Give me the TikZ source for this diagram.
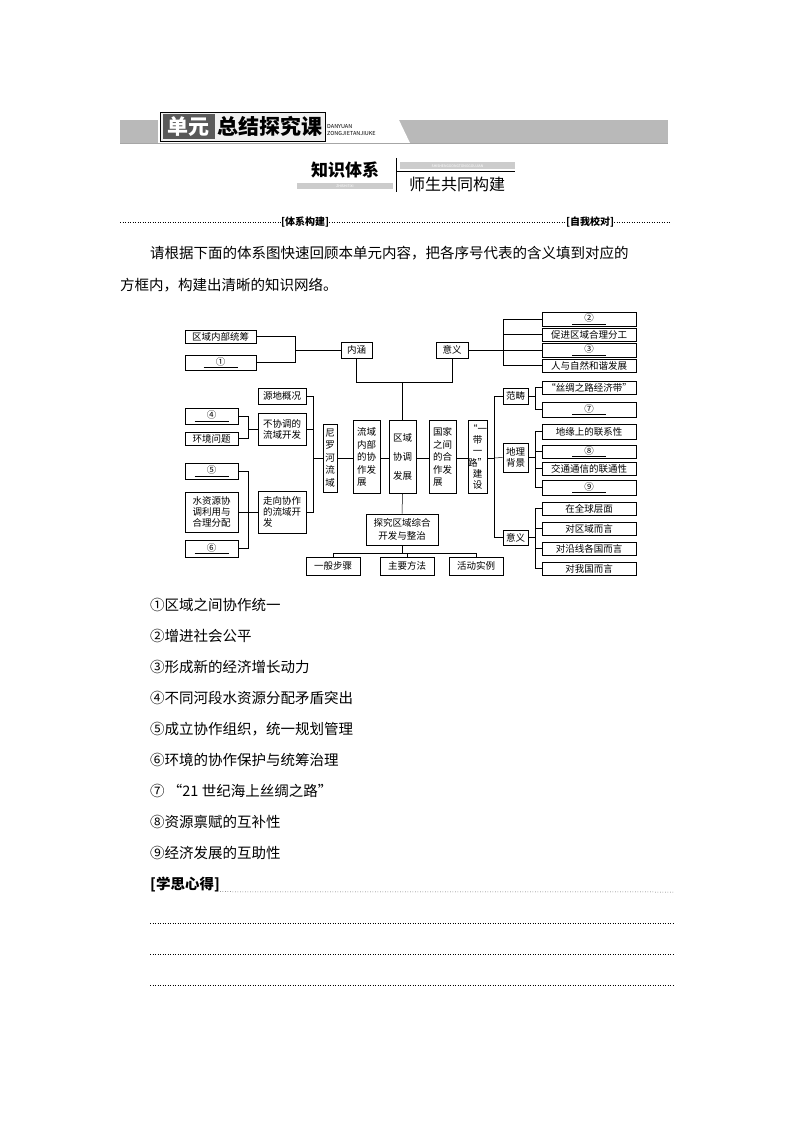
\documentclass[tikz,border=0pt]{standalone}
\usepackage{fontspec}
\setmainfont{Noto Sans CJK SC}
\begin{document}
\begin{tikzpicture}[x=1pt,y=-1pt,
  bx/.style={draw,line width=0.6pt,inner sep=0pt,font=\fontsize{9.5}{11}\selectfont,align=center},
  bxl/.style={bx,align=left},
  ln/.style={line width=0.5pt},
  body/.style={anchor=west,inner sep=0pt,font=\fontsize{14.5}{16}\selectfont}]
\useasboundingbox (0,0) rectangle (794,1123);
\newcommand{\blank}[1]{\underline{\makebox[34pt]{#1}}}
% header band
\fill[gray!55] (120,120) rectangle (668,143);
\fill[white] (158,118) -- (398,118) -- (410,143) -- (158,143) -- cycle;
\draw[gray!70,line width=0.8pt] (120,143) -- (668,143);
\node[draw,fill=gray!12,minimum width=165pt,minimum height=29pt,inner sep=0pt] (hb) at (242.5,126.5) {};
\node[fill=gray!70!black,minimum width=52pt,minimum height=25pt,inner sep=0pt,text=white,font=\fontsize{21}{22}\selectfont\bfseries] (hd) at (188.5,126.5) {单元};
\node[inner sep=0pt,font=\fontsize{21}{22}\selectfont\bfseries] (ht) at (270,126.5) {总结探究课};
\node[anchor=west,inner sep=0pt,font=\fontsize{5.5}{7}\selectfont,align=left] (hs) at (327,130) {DANYUAN\\ZONGJIETANJIUKE};
% knowledge title
\node[inner sep=0pt,font=\fontsize{17}{18}\selectfont\bfseries] (zs) at (345,170) {知识体系};
\node[fill=gray!40,minimum width=96pt,minimum height=6pt,inner sep=0pt,text=white,font=\fontsize{3.5}{4}\selectfont] (zsb) at (345,186) {ZHISHITIXI};
\draw[line width=0.7pt] (396,158) -- (396,192);
\node[fill=gray!40,minimum width=115pt,minimum height=7pt,inner sep=0pt,text=white,font=\fontsize{3.5}{4}\selectfont] (ssb) at (457.5,166) {SHISHENGGONGTONGGOUJIAN};
\draw[line width=0.5pt] (396,171) -- (515,171);
\node[inner sep=0pt,font=\fontsize{16}{17}\selectfont] (ss) at (457,184) {师生共同构建};
% dotted divider
\node[inner sep=0pt,font=\fontsize{10}{11}\selectfont\bfseries] (t1) at (305,222) {[体系构建]};
\node[inner sep=0pt,font=\fontsize{10}{11}\selectfont\bfseries] (t2) at (590,222) {[自我校对]};
\draw[dotted,line width=0.5pt] (120,222) -- (t1.west);
\draw[dotted,line width=0.5pt] (t1.east) -- (t2.west);
\draw[dotted,line width=0.5pt] (t2.east) -- (670,222);
% paragraph
\node[body] (p1) at (150,253) {请根据下面的体系图快速回顾本单元内容，把各序号代表的含义填到对应的};
\node[body] (p2) at (120,285) {方框内，构建出清晰的知识网络。};
% ===== diagram =====
\node[bx,minimum width=71pt,minimum height=13pt] (a1) at (220.5,336.5) {区域内部统筹};
\node[bx,minimum width=71pt,minimum height=15pt] (b1) at (220.5,362.5) {\blank{①}};
\node[bx,minimum width=31pt,minimum height=16pt] (nh) at (356.5,350) {内涵};
\node[bx,minimum width=32pt,minimum height=16pt] (yy) at (452,350) {意义};
\node[bx,minimum width=94pt,minimum height=14pt] (r2) at (589,319) {\blank{②}};
\node[bx,minimum width=94pt,minimum height=13pt] (rc) at (589,334.5) {促进区域合理分工};
\node[bx,minimum width=94pt,minimum height=14pt] (r3) at (589,350) {\blank{③}};
\node[bx,minimum width=94pt,minimum height=13pt] (rr) at (589,365.5) {人与自然和谐发展};
\coordinate (c1) at (295,350);
\draw[ln] (a1.east) -- (295,336.5) -- (295,362.5) -- (b1.east);
\draw[ln] (c1) -- (nh.west);
\coordinate (c2) at (503,350);
\draw[ln] (yy.east) -- (c2);
\draw[ln] (503,319) -- (503,365.5);
\foreach \n in {r2,rc,r3,rr} \draw[ln] (503,0 |- \n.west) -- (\n.west);
% middle row
\node[bx,minimum width=14pt,minimum height=68pt,font=\fontsize{9.5}{12.5}\selectfont] (nl) at (330,458) {尼\\罗\\河\\流\\域};
\node[bxl,minimum width=27pt,minimum height=73pt,font=\fontsize{9.5}{12.5}\selectfont] (ln1) at (366.5,457) {流域\\内部\\的协\\作发\\展};
\node[bx,minimum width=27pt,minimum height=73pt,font=\fontsize{9.5}{19}\selectfont] (qy) at (402.5,457) {区域\\协调\\发展};
\node[bxl,minimum width=27pt,minimum height=73pt,font=\fontsize{9.5}{12.5}\selectfont] (gj) at (442.5,457) {国家\\之间\\的合\\作发\\展};
\node[bx,minimum width=19pt,minimum height=73pt,font=\fontsize{9.5}{11.3}\selectfont] (yd) at (477.5,457) {“一\\带\\一\\路”\\建\\设};
\draw[ln] (nh.south) -- (356.5,382) -- (452,382) -- (yy.south);
\draw[ln] (402.5,382) -- (qy.north);
\coordinate (lv) at (313,458);
\coordinate (rv) at (494,458);
\draw[ln] (lv) -- (nl.west);
\draw[ln] (nl.east |- 0,458) -- (ln1.west |- 0,458);
\draw[ln] (ln1.east |- 0,458) -- (qy.west |- 0,458);
\draw[ln] (qy.east |- 0,458) -- (gj.west |- 0,458);
\draw[ln] (gj.east |- 0,458) -- (yd.west |- 0,458);
\draw[ln] (yd.east |- 0,458) -- (rv);
% left side
\node[bx,minimum width=48pt,minimum height=16pt] (yd1) at (282,396) {源地概况};
\node[bxl,minimum width=48pt,minimum height=32pt] (bx1) at (282,429) {不协调的\\流域开发};
\node[bxl,minimum width=48pt,minimum height=42pt] (zx) at (282,512) {走向协作\\的流域开\\发};
\node[bx,minimum width=53pt,minimum height=16pt] (b4) at (211.5,416) {\blank{④}};
\node[bx,minimum width=53pt,minimum height=13pt] (hj) at (211.5,438.5) {环境问题};
\node[bx,minimum width=53pt,minimum height=16pt] (b5) at (211.5,471) {\blank{⑤}};
\node[bxl,minimum width=53pt,minimum height=40pt] (sz) at (211.5,512) {水资源协\\调利用与\\合理分配};
\node[bx,minimum width=53pt,minimum height=17pt] (b6) at (211.5,548.5) {\blank{⑥}};
\draw[ln] (b4.east) -- (248,416) -- (248,438.5) -- (hj.east);
\draw[ln] (248,429) -- (bx1.west);
\draw[ln] (b5.east) -- (248,471) -- (248,548.5) -- (b6.east);
\draw[ln] (sz.east) -- (zx.west);
\draw[ln] (yd1.east) -- (313,396) -- (313,512) -- (zx.east);
\draw[ln] (bx1.east) -- (313,429);
% bottom
\node[bx,minimum width=72pt,minimum height=31pt,font=\fontsize{9.5}{13}\selectfont] (tj) at (402,529.5) {探究区域综合\\开发与整治};
\draw[ln] (qy.south) -- (tj.north);
\node[bx,minimum width=54pt,minimum height=18pt] (g1) at (333,566) {一般步骤};
\node[bx,minimum width=54pt,minimum height=18pt] (g2) at (407,566) {主要方法};
\node[bx,minimum width=54pt,minimum height=18pt] (g3) at (476,566) {活动实例};
\draw[ln] (tj.south) -- (402,553);
\draw[ln] (333,553) -- (476,553);
\foreach \n in {g1,g2,g3} \draw[ln] (\n.north |- 0,553) -- (\n.north);
% right side
\node[bx,minimum width=25pt,minimum height=16pt] (fc) at (515.5,396) {范畴};
\node[bx,minimum width=25pt,minimum height=29pt] (dl) at (515.5,457.5) {地理\\背景};
\node[bx,minimum width=25pt,minimum height=15pt] (yy2) at (515.5,537.5) {意义};
\draw[ln] (fc.west) -- (494,396) -- (494,537.5) -- (yy2.west);
\draw[ln] (rv) -- (dl.west);
\node[bx,minimum width=94pt,minimum height=13pt] (s1) at (589,387.5) {“丝绸之路经济带”};
\node[bx,minimum width=94pt,minimum height=15pt] (s7) at (589,409.5) {\blank{⑦}};
\node[bx,minimum width=94pt,minimum height=15pt] (d1) at (589,431.5) {地缘上的联系性};
\node[bx,minimum width=94pt,minimum height=13pt] (d8) at (589,451.5) {\blank{⑧}};
\node[bx,minimum width=94pt,minimum height=13pt] (d3) at (589,468.5) {交通通信的联通性};
\node[bx,minimum width=94pt,minimum height=15pt] (d9) at (589,487.5) {\blank{⑨}};
\node[bx,minimum width=94pt,minimum height=13pt] (m1) at (589,508.5) {在全球层面};
\node[bx,minimum width=94pt,minimum height=13pt] (m2) at (589,528.5) {对区域而言};
\node[bx,minimum width=94pt,minimum height=13pt] (m3) at (589,548.5) {对沿线各国而言};
\node[bx,minimum width=94pt,minimum height=13pt] (m4) at (589,568.5) {对我国而言};
\draw[ln] (fc.east) -- (535,396);
\draw[ln] (535,387.5) -- (535,409.5);
\foreach \n in {s1,s7} \draw[ln] (535,0 |- \n.west) -- (\n.west);
\draw[ln] (dl.east) -- (535,457.5);
\draw[ln] (535,431.5) -- (535,487.5);
\foreach \n in {d1,d8,d3,d9} \draw[ln] (535,0 |- \n.west) -- (\n.west);
\draw[ln] (yy2.east) -- (535,537.5);
\draw[ln] (535,508.5) -- (535,568.5);
\foreach \n in {m1,m2,m3,m4} \draw[ln] (535,0 |- \n.west) -- (\n.west);
% answers
\node[body] (l1) at (150,605) {①区域之间协作统一};
\node[body] (l2) at (150,636) {②增进社会公平};
\node[body] (l3) at (150,667) {③形成新的经济增长动力};
\node[body] (l4) at (150,698) {④不同河段水资源分配矛盾突出};
\node[body] (l5) at (150,729) {⑤成立协作组织，统一规划管理};
\node[body] (l6) at (150,760) {⑥环境的协作保护与统筹治理};
\node[body] (l7) at (150,791) {⑦ “21 世纪海上丝绸之路”};
\node[body] (l8) at (150,822) {⑧资源禀赋的互补性};
\node[body] (l9) at (150,853) {⑨经济发展的互助性};
\node[body,font=\fontsize{14.5}{16}\selectfont\bfseries] (xs) at (150,884) {[学思心得]};
\draw[dotted,line width=0.5pt] (xs.south east) -- (673,892);
\draw[dotted,line width=0.5pt] (150,923) -- (673,923);
\draw[dotted,line width=0.5pt] (150,954) -- (673,954);
\draw[dotted,line width=0.5pt] (150,985) -- (673,985);
\end{tikzpicture}
\end{document}
